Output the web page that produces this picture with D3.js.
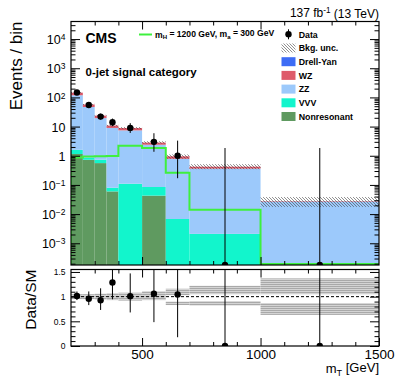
<!DOCTYPE html>
<html>
<head>
<meta charset="utf-8">
<script src="https://cdn.jsdelivr.net/npm/d3@7"></script>
<style>
  body { margin: 0; background: #fff; }
  svg { display: block; font-family: "Liberation Sans", Arial, Helvetica, sans-serif; }
</style>
</head>
<body>
<div id="chart"></div>
<script>
// bins in m_T [GeV]
var binEdges = [200, 250, 300, 350, 400, 500, 600, 700, 1000, 1500];

// background processes, events per bin
var nonres = [1.15, 0.73, 0.56, 0.06, 0, 0.043, 0, 0, 0];
var vvv    = [0.45, 0.12, 0.17, 0.02, 0.11, 0.042, 0.0068, 0.0021, 0];
var zz     = [117, 46, 18.8, 8.9, 7.3, 2.3, 0.78, 0.36, 0.027];
var wz     = [27, 10.5, 4.2, 1.9, 1.5, 0.45, 0.17, 0.06, 0.001];
var dy     = [0.3, 0.1, 0.02, 0.01, 0.005, 0, 0, 0, 0];

// relative bkg. uncertainty (up / down)
var uncUp = [0.05, 0.05, 0.06, 0.07, 0.08, 0.11, 0.16, 0.22, 0.37];
var uncDn = [0.05, 0.05, 0.06, 0.07, 0.08, 0.07, 0.17, 0.18, 0.37];
// unfilled strip inside the ratio band
var gapHi = [1, 1, 1, 1, 1, 1, 1.03, 1.05, 1.05];
var gapLo = [1, 1, 1, 1, 1, 1, 0.90, 0.91, 0.87];

// signal m_H = 1200, m_a = 300
var signal = [0.88, 0.95, 0.97, 0.98, 2.2, 1.85, 0.26, 0.014, 0];

// observed data with poisson error bars
var dataN  = [148, 55, 22, 14, 9, 3, 1, 0, 0];
var dataLo = [12.2, 7.4, 4.66, 3.7, 2.94, 1.63, 0.83, 0, 0];
var dataHi = [13.2, 8.5, 5.76, 4.83, 4.11, 2.92, 2.3, 1.84, 1.84];

var yTicks = [1e-3, 1e-2, 1e-1, 1, 10, 1e2, 1e3, 1e4];
var ratioTicks = [0, 0.5, 1, 1.5];
var xTicks = [500, 1000, 1500];

var legendNames = ['Drell-Yan', 'WZ', 'ZZ', 'VVV', 'Nonresonant'];
var legendColors = ['#3d6cf5', '#de5a6a', '#9cc9fb', '#12f5cc', '#5f9a60'];

var W = 399, H = 379;
var L = 71, R = 379, T = 21.5, B = 265;
var RT = 269.5, RB = 346;
var ymin = 1.8e-4, ymax = 4e4;

var svg = d3.select('#chart').append('svg')
  .attr('width', W).attr('height', H);
svg.append('rect').attr('width', W).attr('height', H).attr('fill', '#fff');

var defs = svg.append('defs');
var hatch = defs.append('pattern').attr('id', 'hatch')
  .attr('patternUnits', 'userSpaceOnUse').attr('width', 3).attr('height', 3);
hatch.append('path').attr('d', 'M-1,-1L4,4M-1,2L1,4M2,-1L4,1')
  .attr('stroke', '#444').attr('stroke-width', 0.6);
var dots = defs.append('pattern').attr('id', 'dots')
  .attr('patternUnits', 'userSpaceOnUse').attr('width', 2).attr('height', 2);
dots.append('rect').attr('width', 2).attr('height', 2).attr('fill', '#d4d4d4');
dots.append('rect').attr('width', 2).attr('height', 1).attr('fill', '#a9a9a9');

defs.append('clipPath').attr('id', 'clipMain').append('rect')
  .attr('x', L).attr('y', T).attr('width', R - L).attr('height', B - T);
defs.append('clipPath').attr('id', 'clipRatio').append('rect')
  .attr('x', L).attr('y', RT).attr('width', R - L).attr('height', RB - RT);

var x = d3.scaleLinear().domain([200, 1500]).range([L, R]);
var y = d3.scaleLog().domain([ymin, ymax]).range([B, T]);
var yr = d3.scaleLinear().domain([0, 1.55]).range([RB, RT]);

var bins = d3.range(binEdges.length - 1).map(function(i) {
  return {lo: binEdges[i], hi: binEdges[i + 1],
          nonres: nonres[i], vvv: vvv[i], zz: zz[i], wz: wz[i], dy: dy[i]};
});
var keys = ['nonres', 'vvv', 'zz', 'wz', 'dy'];
var keyColor = {nonres: '#5f9a60', vvv: '#12f5cc', zz: '#9cc9fb', wz: '#de5a6a', dy: '#3d6cf5'};
var stacked = d3.stack().keys(keys)(bins);
var total = bins.map(function(b) { return b.nonres + b.vvv + b.zz + b.wz + b.dy; });

// ---- main panel ----
var main = svg.append('g').attr('clip-path', 'url(#clipMain)');

stacked.forEach(function(s) {
  main.append('g').selectAll('rect')
    .data(s.filter(function(d) { return d[1] > ymin && d[1] > d[0]; }))
    .enter().append('rect')
    .attr('x', function(d) { return x(d.data.lo); })
    .attr('width', function(d) { return x(d.data.hi) - x(d.data.lo); })
    .attr('y', function(d) { return y(d[1]); })
    .attr('height', function(d) { return y(Math.max(d[0], ymin)) - y(d[1]); })
    .attr('fill', keyColor[s.key]);
});

main.append('g').selectAll('rect').data(bins).enter().append('rect')
  .attr('x', function(d) { return x(d.lo); })
  .attr('width', function(d) { return x(d.hi) - x(d.lo); })
  .attr('y', function(d, i) { return y(total[i] * (1 + uncUp[i])); })
  .attr('height', function(d, i) { return y(total[i] * (1 - uncDn[i])) - y(total[i] * (1 + uncUp[i])); })
  .attr('fill', 'url(#hatch)');

// signal histogram as a step line
var sigPts = [[x(200), B]];
bins.forEach(function(b, i) {
  var v = signal[i] > ymin ? y(signal[i]) : B - 1;
  sigPts.push([x(b.lo), v]);
  sigPts.push([x(b.hi), v]);
});
main.append('path').attr('d', d3.line()(sigPts))
  .attr('fill', 'none').attr('stroke', '#3ef03e').attr('stroke-width', 2);

var dataG = main.append('g');
bins.forEach(function(b, i) {
  var cx = x((b.lo + b.hi) / 2);
  var lo = dataN[i] - dataLo[i];
  dataG.append('line').attr('x1', cx).attr('x2', cx)
    .attr('y1', lo > ymin ? y(lo) : B).attr('y2', y(dataN[i] + dataHi[i]))
    .attr('stroke', '#000').attr('stroke-width', 1);
  dataG.append('circle').attr('cx', cx)
    .attr('cy', dataN[i] > 0 ? y(dataN[i]) : B)
    .attr('r', 3.2).attr('fill', '#000');
});

// ---- ratio panel ----
var ratio = svg.append('g').attr('clip-path', 'url(#clipRatio)');
bins.forEach(function(b, i) {
  var parts = [[1 + uncUp[i], gapHi[i]], [gapLo[i], 1 - uncDn[i]]];
  parts.forEach(function(p) {
    if (p[0] <= p[1]) return;
    ratio.append('rect').attr('x', x(b.lo)).attr('width', x(b.hi) - x(b.lo))
      .attr('y', yr(p[0])).attr('height', yr(p[1]) - yr(p[0]))
      .attr('fill', 'url(#dots)');
  });
});
ratio.append('line').attr('x1', L).attr('x2', R).attr('y1', yr(1)).attr('y2', yr(1))
  .attr('stroke', '#000').attr('stroke-width', 1).attr('stroke-dasharray', '3,2');
bins.forEach(function(b, i) {
  var cx = x((b.lo + b.hi) / 2);
  var r = dataN[i] / total[i];
  ratio.append('line').attr('x1', cx).attr('x2', cx)
    .attr('y1', yr(r - dataLo[i] / total[i])).attr('y2', yr(r + dataHi[i] / total[i]))
    .attr('stroke', '#000').attr('stroke-width', 1);
  ratio.append('circle').attr('cx', cx).attr('cy', yr(r)).attr('r', 3.2).attr('fill', '#000');
});

// ---- axes ----
function minorLog() {
  var out = [];
  for (var e = -4; e <= 4; e++) {
    for (var k = 2; k <= 9; k++) {
      var v = k * Math.pow(10, e);
      if (v > ymin && v < ymax) out.push(v);
    }
  }
  return out;
}
function styleAxis(g) {
  g.select('.domain').remove();
  g.selectAll('line').attr('stroke', '#000').attr('stroke-width', 1);
  g.selectAll('text').attr('fill', '#000').attr('font-family', null);
}
var xMinor = d3.range(300, 1500, 100).filter(function(v) { return v % 500 !== 0; });

// main y
svg.append('g').attr('transform', 'translate(' + L + ',0)')
  .call(d3.axisLeft(y).tickValues(yTicks).tickSize(-9).tickPadding(5.5).tickFormat(''))
  .call(styleAxis)
  .call(function(g) {
    g.selectAll('.tick text').each(function(d) {
      var t = d3.select(this).attr('font-size', 12.5).attr('dy', '0.36em');
      var e = Math.round(Math.log10(d));
      if (e === 0) t.text('1');
      else if (e === 1) t.text('10');
      else {
        t.append('tspan').text('10');
        t.append('tspan').attr('dy', '-0.45em').attr('font-size', '0.68em')
          .text(e < 0 ? '\u2212' + (-e) : e);
      }
    });
  });
svg.append('g').attr('transform', 'translate(' + L + ',0)')
  .call(d3.axisLeft(y).tickValues(minorLog()).tickSize(-4.5).tickFormat(''))
  .call(styleAxis);
svg.append('g').attr('transform', 'translate(' + R + ',0)')
  .call(d3.axisRight(y).tickValues(yTicks).tickSize(-9).tickFormat(''))
  .call(styleAxis);
svg.append('g').attr('transform', 'translate(' + R + ',0)')
  .call(d3.axisRight(y).tickValues(minorLog()).tickSize(-4.5).tickFormat(''))
  .call(styleAxis);

// main x (no labels)
[[B, d3.axisBottom], [T, d3.axisTop]].forEach(function(a) {
  svg.append('g').attr('transform', 'translate(0,' + a[0] + ')')
    .call(a[1](x).tickValues([500, 1000]).tickSize(-8).tickFormat(''))
    .call(styleAxis);
  svg.append('g').attr('transform', 'translate(0,' + a[0] + ')')
    .call(a[1](x).tickValues(xMinor).tickSize(-4).tickFormat(''))
    .call(styleAxis);
});

// ratio y
var rMinor = d3.range(0.1, 1.55, 0.1).filter(function(v) { return Math.abs(v * 2 - Math.round(v * 2)) > 0.01; });
svg.append('g').attr('transform', 'translate(' + L + ',0)')
  .call(d3.axisLeft(yr).tickValues(ratioTicks).tickSize(-9).tickPadding(5.5).tickFormat(d3.format('~g')))
  .call(styleAxis)
  .call(function(g) { g.selectAll('text').attr('font-size', 8.5); });
svg.append('g').attr('transform', 'translate(' + L + ',0)')
  .call(d3.axisLeft(yr).tickValues(rMinor).tickSize(-4.5).tickFormat(''))
  .call(styleAxis);
svg.append('g').attr('transform', 'translate(' + R + ',0)')
  .call(d3.axisRight(yr).tickValues(ratioTicks).tickSize(-9).tickFormat(''))
  .call(styleAxis);
svg.append('g').attr('transform', 'translate(' + R + ',0)')
  .call(d3.axisRight(yr).tickValues(rMinor).tickSize(-4.5).tickFormat(''))
  .call(styleAxis);

// ratio x (labels)
svg.append('g').attr('transform', 'translate(0,' + RB + ')')
  .call(d3.axisBottom(x).tickValues(xTicks).tickSize(-8).tickPadding(3.8).tickFormat(d3.format('d')))
  .call(styleAxis)
  .call(function(g) { g.selectAll('text').attr('font-size', 13.5); });
svg.append('g').attr('transform', 'translate(0,' + RB + ')')
  .call(d3.axisBottom(x).tickValues(xMinor).tickSize(-4).tickFormat(''))
  .call(styleAxis);
svg.append('g').attr('transform', 'translate(0,' + RT + ')')
  .call(d3.axisTop(x).tickValues([500, 1000]).tickSize(-8).tickFormat(''))
  .call(styleAxis);
svg.append('g').attr('transform', 'translate(0,' + RT + ')')
  .call(d3.axisTop(x).tickValues(xMinor).tickSize(-4).tickFormat(''))
  .call(styleAxis);

// frames
svg.append('rect').attr('x', L).attr('y', T).attr('width', R - L).attr('height', B - T)
  .attr('fill', 'none').attr('stroke', '#000').attr('stroke-width', 1.2);
svg.append('rect').attr('x', L).attr('y', RT).attr('width', R - L).attr('height', RB - RT)
  .attr('fill', 'none').attr('stroke', '#000').attr('stroke-width', 1.2);

// ---- titles ----
svg.append('text').attr('transform', 'translate(21.5,' + T + ') rotate(-90)')
  .attr('text-anchor', 'end').attr('font-size', 17).text('Events / bin');
svg.append('text').attr('transform', 'translate(36,' + RT + ') rotate(-90)')
  .attr('text-anchor', 'end').attr('font-size', 15.5).text('Data/SM');

var xt = svg.append('text').attr('x', R).attr('y', 373).attr('text-anchor', 'end').attr('font-size', 13);
xt.append('tspan').text('m');
xt.append('tspan').attr('dy', '0.3em').attr('font-size', '0.7em').text('T');
xt.append('tspan').attr('dy', '-0.3em').text(' [GeV]');

var lumi = svg.append('text').attr('x', R).attr('y', 16.5).attr('text-anchor', 'end').attr('font-size', 12);
lumi.append('tspan').text('137 fb');
lumi.append('tspan').attr('dy', '-0.45em').attr('font-size', '0.68em').text('-1');
lumi.append('tspan').attr('dy', '0.45em').text(' (13 TeV)');

svg.append('text').attr('x', 85.5).attr('y', 42.5).attr('font-size', 14).attr('font-weight', 'bold').text('CMS');
svg.append('text').attr('x', 85.5).attr('y', 76).attr('font-size', 11.5).attr('font-weight', 'bold')
  .text('0-jet signal category');

// ---- legend ----
svg.append('line').attr('x1', 139).attr('x2', 152).attr('y1', 34.5).attr('y2', 34.5)
  .attr('stroke', '#3ef03e').attr('stroke-width', 2);
var sl = svg.append('text').attr('x', 155).attr('y', 37.5).attr('font-size', 8.6).attr('font-weight', 'bold');
sl.append('tspan').text('m');
sl.append('tspan').attr('dy', '0.3em').attr('font-size', '0.7em').text('H');
sl.append('tspan').attr('dy', '-0.3em').text(' = 1200 GeV, m');
sl.append('tspan').attr('dy', '0.3em').attr('font-size', '0.7em').text('a');
sl.append('tspan').attr('dy', '-0.3em').text(' = 300 GeV');

var lx = 281.5, tx = 298.7, rowH = 13.7, ly0 = 34.3;
svg.append('line').attr('x1', lx + 7).attr('x2', lx + 7).attr('y1', ly0 - 5).attr('y2', ly0 + 5)
  .attr('stroke', '#000').attr('stroke-width', 1);
svg.append('circle').attr('cx', lx + 7).attr('cy', ly0).attr('r', 3.2).attr('fill', '#000');
svg.append('rect').attr('x', lx).attr('y', ly0 + rowH - 4.5).attr('width', 14).attr('height', 9)
  .attr('fill', 'url(#hatch)');
legendNames.forEach(function(n, i) {
  svg.append('rect').attr('x', lx).attr('y', ly0 + rowH * (i + 2) - 4.5)
    .attr('width', 14).attr('height', 9).attr('fill', legendColors[i]);
});
['Data', 'Bkg. unc.'].concat(legendNames).forEach(function(n, i) {
  svg.append('text').attr('x', tx).attr('y', ly0 + rowH * i + 3.2)
    .attr('font-size', 8.8).attr('font-weight', 'bold').text(n);
});
</script>
</body>
</html>
